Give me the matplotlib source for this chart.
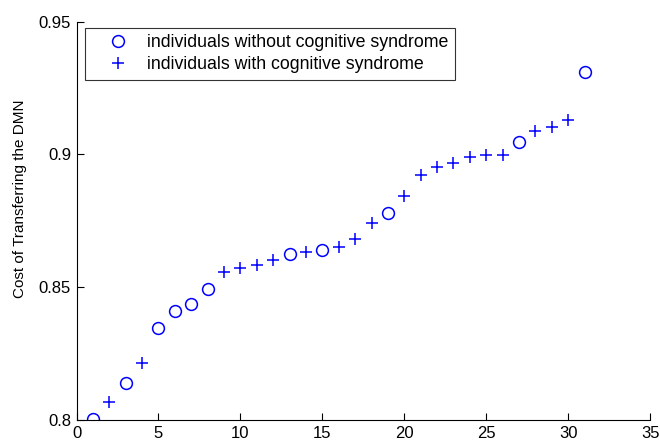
import matplotlib
matplotlib.use("Agg")
import matplotlib.pyplot as plt

plt.rcParams['font.family'] = ['Liberation Sans', 'DejaVu Sans']

# subjects without cognitive syndrome
x_without = [1, 3, 5, 6, 7, 8, 13, 15, 19, 27, 31]
y_without = [0.8005, 0.8140, 0.8348, 0.8410, 0.8435, 0.8493, 0.8626, 0.8641,
             0.8778, 0.9048, 0.9309]

# subjects with cognitive syndrome
x_with = [2, 4, 9, 10, 11, 12, 14, 16, 17, 18, 20, 21, 22, 23, 24, 25, 26,
          28, 29, 30]
y_with = [0.8069, 0.8215, 0.8557, 0.8573, 0.8584, 0.8601, 0.8634, 0.8653,
          0.8682, 0.8741, 0.8845, 0.8922, 0.8951, 0.8966, 0.8992, 0.8998,
          0.8998, 0.9089, 0.9104, 0.9131]

xticks = [0, 5, 10, 15, 20, 25, 30, 35]
yticks = [0.8, 0.85, 0.9, 0.95]
ytick_labels = ['0.8', '0.85', '0.9', '0.95']

fig = plt.figure(figsize=(6.6, 4.43), dpi=100)
ax = fig.add_axes([0.116, 0.052, 0.869, 0.899])

ax.plot(x_without, y_without, 'o', color='blue', markerfacecolor='none',
        markersize=8.5, markeredgewidth=1.1,
        label='individuals without cognitive syndrome')
ax.plot(x_with, y_with, '+', color='blue', markersize=9, markeredgewidth=1.1,
        label='individuals with cognitive syndrome')

ax.set_xlim(0, 35)
ax.set_ylim(0.8, 0.95)
ax.set_xticks(xticks)
ax.set_yticks(yticks)
ax.set_yticklabels(ytick_labels)
ax.tick_params(direction='in', length=5, labelsize=12, width=0.8, pad=4)
ax.spines['top'].set_visible(False)
ax.spines['right'].set_visible(False)
ax.set_ylabel('Cost of Transferring the DMN', fontsize=11)
ax.yaxis.set_label_coords(-0.086, 0.555)

leg = ax.legend(loc='upper left', fontsize=12.8, frameon=True, fancybox=False,
                edgecolor='black', borderpad=0.35, handlelength=3.0,
                handletextpad=0.15, labelspacing=0.28, borderaxespad=0,
                bbox_to_anchor=(0.0148, 0.984))
leg.get_frame().set_linewidth(0.8)

fig.savefig('out.png', dpi=100)
